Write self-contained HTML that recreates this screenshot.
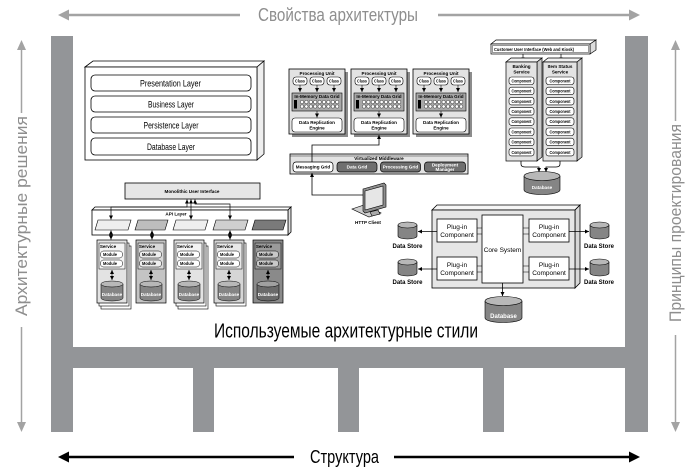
<!DOCTYPE html>
<html><head><meta charset="utf-8"><style>
html,body{margin:0;padding:0;background:#fff;}
svg{display:block;}
.s{font-family:"Liberation Sans Narrow","Liberation Sans",sans-serif;font-size:4.6px;font-weight:bold;text-anchor:middle;fill:#000;}
.m{font-family:"Liberation Sans Narrow","Liberation Sans",sans-serif;font-size:6.5px;text-anchor:middle;fill:#000;}
.big{font-family:"Liberation Sans Narrow","Liberation Sans","DejaVu Sans",sans-serif;}
</style></head><body>
<svg width="698" height="471" viewBox="0 0 698 471" xmlns="http://www.w3.org/2000/svg">
<defs>
<marker id="a" viewBox="0 0 6 6" refX="6" refY="3" markerWidth="4" markerHeight="4" orient="auto-start-reverse" markerUnits="userSpaceOnUse"><path d="M0,0 L6,3 L0,6z" fill="#000"/></marker>
</defs>
<rect width="698" height="471" fill="#fff"/>

<!-- frame -->
<g fill="#939598">
<rect x="51" y="36" width="22" height="396"/>
<rect x="625" y="36" width="23" height="396"/>
<rect x="51" y="347" width="597" height="21"/>
<rect x="193" y="347" width="21" height="85"/>
<rect x="338" y="347" width="21" height="85"/>
<rect x="483" y="347" width="21" height="85"/>
</g>

<!-- top label -->
<g stroke="#a3a3a3" stroke-width="2.5"><line x1="66" y1="15" x2="240" y2="15"/><line x1="438" y1="15" x2="632" y2="15"/></g>
<polygon points="58,15 69,9.5 69,20.5" fill="#a3a3a3"/><polygon points="640,15 629,9.5 629,20.5" fill="#a3a3a3"/>
<text class="big" x="258" y="21" font-size="18" fill="#8e8e8e" textLength="160" lengthAdjust="spacingAndGlyphs">Свойства архитектуры</text>

<!-- bottom label -->
<g stroke="#000" stroke-width="2.5"><line x1="66" y1="457" x2="294" y2="457"/><line x1="394" y1="457" x2="632" y2="457"/></g>
<polygon points="58,457 69,451.5 69,462.5" fill="#000"/><polygon points="640,457 629,451.5 629,462.5" fill="#000"/>
<text class="big" x="310" y="463" font-size="18" fill="#000" textLength="69" lengthAdjust="spacingAndGlyphs">Структура</text>

<!-- left vertical -->
<g stroke="#a3a3a3" stroke-width="1.5"><line x1="21.5" y1="48" x2="21.5" y2="113"/><line x1="21.5" y1="327" x2="21.5" y2="424"/></g>
<polygon points="21.5,40 17,50 26,50" fill="#a3a3a3"/><polygon points="21.5,432 17,422 26,422" fill="#a3a3a3"/>
<text class="big" transform="translate(27,316) rotate(-90)" font-size="17" fill="#8e8e8e" textLength="200" lengthAdjust="spacingAndGlyphs">Архитектурные решения</text>

<!-- right vertical -->
<g stroke="#a3a3a3" stroke-width="1.5"><line x1="675.5" y1="48" x2="675.5" y2="121"/><line x1="675.5" y1="335" x2="675.5" y2="424"/></g>
<polygon points="675.5,40 671,50 680,50" fill="#a3a3a3"/><polygon points="675.5,432 671,422 680,422" fill="#a3a3a3"/>
<text class="big" transform="translate(681,322) rotate(-90)" font-size="17" fill="#8e8e8e" textLength="198" lengthAdjust="spacingAndGlyphs">Принципы проектирования</text>

<!-- middle caption -->
<text class="big" x="214" y="337.5" font-size="20" fill="#000" textLength="264" lengthAdjust="spacingAndGlyphs">Используемые архитектурные стили</text>

<!-- ================= Layered ================= -->
<g stroke="#000" stroke-width="0.8">
<polygon points="85,67 93,61 264,61 257,67" fill="#fff"/>
<polygon points="257,67 264,61 264,154 257,160" fill="#eee"/>
<rect x="85" y="67" width="172" height="93" fill="#fff"/>
<rect x="91" y="75" width="160" height="16" rx="4" fill="#fff"/>
<rect x="91" y="96" width="160" height="16" rx="4" fill="#fff"/>
<rect x="91" y="117" width="160" height="16" rx="4" fill="#fff"/>
<rect x="91" y="138" width="160" height="17" rx="4" fill="#fff"/>
</g>
<g class="big" font-size="9" fill="#000">
<text x="140" y="86.5" textLength="61" lengthAdjust="spacingAndGlyphs">Presentation Layer</text>
<text x="148" y="107.5" textLength="46" lengthAdjust="spacingAndGlyphs">Business Layer</text>
<text x="143.5" y="128.5" textLength="55" lengthAdjust="spacingAndGlyphs">Persistence Layer</text>
<text x="147" y="150" textLength="48" lengthAdjust="spacingAndGlyphs">Database Layer</text>
</g>

<!-- ================= Space-based ================= -->
<g transform="translate(289,69)">
<rect x="3" y="3" width="56" height="65" fill="#8c8c8c"/>
<rect x="0" y="0" width="56" height="65" fill="#e3e3e3" stroke="#000" stroke-width="0.8"/>
<text class="s" x="28" y="6">Processing Unit</text>
<g fill="#fff" stroke="#000" stroke-width="0.6"><rect x="4" y="8" width="14" height="8" rx="3"/><rect x="21" y="8" width="14" height="8" rx="3"/><rect x="38" y="8" width="14" height="8" rx="3"/></g>
<text class="s" x="11" y="13.6" textLength="10" lengthAdjust="spacingAndGlyphs">Class</text><text class="s" x="28" y="13.6" textLength="10" lengthAdjust="spacingAndGlyphs">Class</text><text class="s" x="45" y="13.6" textLength="10" lengthAdjust="spacingAndGlyphs">Class</text>
<g stroke="#000" stroke-width="0.6" marker-end="url(#a)"><path d="M11 16V23"/><path d="M28 16V23"/><path d="M45 16V23"/><path d="M28 42V48.5"/></g>
<rect x="3" y="24" width="50" height="18" fill="#a8a8a8" stroke="#000" stroke-width="0.6"/>
<text class="s" x="28" y="29">In-Memory Data Grid</text>
<g fill="#fff" stroke="#000" stroke-width="0.4">
<circle cx="13" cy="33" r="1.7"/><circle cx="17.4" cy="33" r="1.7"/><circle cx="21.8" cy="33" r="1.7"/><circle cx="26.2" cy="33" r="1.7"/><circle cx="30.6" cy="33" r="1.7"/><circle cx="35" cy="33" r="1.7"/><circle cx="39.4" cy="33" r="1.7"/><circle cx="43.8" cy="33" r="1.7"/><circle cx="48.2" cy="33" r="1.7"/>
<circle cx="13" cy="37.5" r="1.7"/><circle cx="17.4" cy="37.5" r="1.7"/><circle cx="21.8" cy="37.5" r="1.7"/><circle cx="26.2" cy="37.5" r="1.7"/><circle cx="30.6" cy="37.5" r="1.7"/><circle cx="35" cy="37.5" r="1.7"/><circle cx="39.4" cy="37.5" r="1.7"/><circle cx="43.8" cy="37.5" r="1.7"/><circle cx="48.2" cy="37.5" r="1.7"/>
</g>
<rect x="5" y="31" width="3" height="8.5" fill="#000"/>
<rect x="3" y="49" width="50" height="14" rx="3" fill="#fff" stroke="#000" stroke-width="0.6"/>
<text class="s" x="28" y="55">Data Replication</text><text class="s" x="28" y="60.5">Engine</text>
</g>

<g transform="translate(351,69)">
<rect x="3" y="3" width="56" height="65" fill="#8c8c8c"/>
<rect x="0" y="0" width="56" height="65" fill="#e3e3e3" stroke="#000" stroke-width="0.8"/>
<text class="s" x="28" y="6">Processing Unit</text>
<g fill="#fff" stroke="#000" stroke-width="0.6"><rect x="4" y="8" width="14" height="8" rx="3"/><rect x="21" y="8" width="14" height="8" rx="3"/><rect x="38" y="8" width="14" height="8" rx="3"/></g>
<text class="s" x="11" y="13.6" textLength="10" lengthAdjust="spacingAndGlyphs">Class</text><text class="s" x="28" y="13.6" textLength="10" lengthAdjust="spacingAndGlyphs">Class</text><text class="s" x="45" y="13.6" textLength="10" lengthAdjust="spacingAndGlyphs">Class</text>
<g stroke="#000" stroke-width="0.6" marker-end="url(#a)"><path d="M11 16V23"/><path d="M28 16V23"/><path d="M45 16V23"/><path d="M28 42V48.5"/></g>
<rect x="3" y="24" width="50" height="18" fill="#a8a8a8" stroke="#000" stroke-width="0.6"/>
<text class="s" x="28" y="29">In-Memory Data Grid</text>
<g fill="#fff" stroke="#000" stroke-width="0.4">
<circle cx="13" cy="33" r="1.7"/><circle cx="17.4" cy="33" r="1.7"/><circle cx="21.8" cy="33" r="1.7"/><circle cx="26.2" cy="33" r="1.7"/><circle cx="30.6" cy="33" r="1.7"/><circle cx="35" cy="33" r="1.7"/><circle cx="39.4" cy="33" r="1.7"/><circle cx="43.8" cy="33" r="1.7"/><circle cx="48.2" cy="33" r="1.7"/>
<circle cx="13" cy="37.5" r="1.7"/><circle cx="17.4" cy="37.5" r="1.7"/><circle cx="21.8" cy="37.5" r="1.7"/><circle cx="26.2" cy="37.5" r="1.7"/><circle cx="30.6" cy="37.5" r="1.7"/><circle cx="35" cy="37.5" r="1.7"/><circle cx="39.4" cy="37.5" r="1.7"/><circle cx="43.8" cy="37.5" r="1.7"/><circle cx="48.2" cy="37.5" r="1.7"/>
</g>
<rect x="5" y="31" width="3" height="8.5" fill="#000"/>
<rect x="3" y="49" width="50" height="14" rx="3" fill="#fff" stroke="#000" stroke-width="0.6"/>
<text class="s" x="28" y="55">Data Replication</text><text class="s" x="28" y="60.5">Engine</text>
</g>

<g transform="translate(413,69)">
<rect x="3" y="3" width="56" height="65" fill="#8c8c8c"/>
<rect x="0" y="0" width="56" height="65" fill="#e3e3e3" stroke="#000" stroke-width="0.8"/>
<text class="s" x="28" y="6">Processing Unit</text>
<g fill="#fff" stroke="#000" stroke-width="0.6"><rect x="4" y="8" width="14" height="8" rx="3"/><rect x="21" y="8" width="14" height="8" rx="3"/><rect x="38" y="8" width="14" height="8" rx="3"/></g>
<text class="s" x="11" y="13.6" textLength="10" lengthAdjust="spacingAndGlyphs">Class</text><text class="s" x="28" y="13.6" textLength="10" lengthAdjust="spacingAndGlyphs">Class</text><text class="s" x="45" y="13.6" textLength="10" lengthAdjust="spacingAndGlyphs">Class</text>
<g stroke="#000" stroke-width="0.6" marker-end="url(#a)"><path d="M11 16V23"/><path d="M28 16V23"/><path d="M45 16V23"/><path d="M28 42V48.5"/></g>
<rect x="3" y="24" width="50" height="18" fill="#a8a8a8" stroke="#000" stroke-width="0.6"/>
<text class="s" x="28" y="29">In-Memory Data Grid</text>
<g fill="#fff" stroke="#000" stroke-width="0.4">
<circle cx="13" cy="33" r="1.7"/><circle cx="17.4" cy="33" r="1.7"/><circle cx="21.8" cy="33" r="1.7"/><circle cx="26.2" cy="33" r="1.7"/><circle cx="30.6" cy="33" r="1.7"/><circle cx="35" cy="33" r="1.7"/><circle cx="39.4" cy="33" r="1.7"/><circle cx="43.8" cy="33" r="1.7"/><circle cx="48.2" cy="33" r="1.7"/>
<circle cx="13" cy="37.5" r="1.7"/><circle cx="17.4" cy="37.5" r="1.7"/><circle cx="21.8" cy="37.5" r="1.7"/><circle cx="26.2" cy="37.5" r="1.7"/><circle cx="30.6" cy="37.5" r="1.7"/><circle cx="35" cy="37.5" r="1.7"/><circle cx="39.4" cy="37.5" r="1.7"/><circle cx="43.8" cy="37.5" r="1.7"/><circle cx="48.2" cy="37.5" r="1.7"/>
</g>
<rect x="5" y="31" width="3" height="8.5" fill="#000"/>
<rect x="3" y="49" width="50" height="14" rx="3" fill="#fff" stroke="#000" stroke-width="0.6"/>
<text class="s" x="28" y="55">Data Replication</text><text class="s" x="28" y="60.5">Engine</text>
</g>

<!-- Virtualized middleware -->
<rect x="290" y="154" width="178" height="20" fill="#e3e3e3" stroke="#000" stroke-width="0.8"/>
<line x1="290" y1="156" x2="468" y2="156" stroke="#000" stroke-width="0.4"/>
<text class="s" x="379" y="160">Virtualized Middleware</text>
<rect x="293" y="162" width="40" height="10" rx="3" fill="#fff" stroke="#000" stroke-width="0.7"/>
<rect x="337" y="162" width="40" height="10" rx="3" fill="#6f6f6f" stroke="#000" stroke-width="0.7"/>
<rect x="380.5" y="162" width="40" height="10" rx="3" fill="#6f6f6f" stroke="#000" stroke-width="0.7"/>
<rect x="424.5" y="162" width="41" height="10" rx="3" fill="#6f6f6f" stroke="#000" stroke-width="0.7"/>
<text class="s" x="313" y="168.6">Messaging Grid</text>
<text class="s" x="357" y="168.6" style="fill:#fff">Data Grid</text>
<text class="s" x="400.5" y="168.6" style="fill:#fff">Processing Grid</text>
<text class="s" x="445" y="166.3" style="fill:#fff">Deployment</text>
<text class="s" x="445" y="170.8" style="fill:#fff">Manager</text>
<path d="M312 162V145H379V135" fill="none" stroke="#000" stroke-width="0.8" marker-end="url(#a)"/>
<path d="M366 195H312V173" fill="none" stroke="#000" stroke-width="0.8" marker-end="url(#a)"/>

<!-- HTTP client -->
<g stroke="#000" stroke-width="0.6">
<polygon points="352,209 364,205 381,213 369,217" fill="#cfcfcf"/>
<polygon points="363,189 384,183 386,185 386,207 365,213 363,211" fill="#8e8e8e"/>
<polygon points="365,191 383,186 383,205 365,210" fill="#e6e6e6"/>
<polygon points="370,212 378,210 380,214 372,216" fill="#aaa"/>
</g>
<text class="s" x="368" y="224">HTTP Client</text>

<!-- ================= Microservices (top right) ================= -->
<g stroke="#000" stroke-width="0.7">
<polygon points="491,44 496,40 596,40 590,44" fill="#fff"/>
<polygon points="590,44 596,40 596,50 590,54" fill="#ddd"/>
<rect x="491" y="44" width="99" height="10" fill="#fff"/>
<rect x="492.5" y="45.5" width="96" height="7" fill="none" stroke-width="0.4"/>
</g>
<text class="s" x="494" y="51" style="text-anchor:start" textLength="80" lengthAdjust="spacingAndGlyphs">Customer User Interface (Web and Kiosk)</text>
<g stroke="#000" stroke-width="0.7" marker-end="url(#a)"><path d="M523 54V61.5"/><path d="M561 54V61.5"/></g>

<g stroke="#000" stroke-width="0.7">
<polygon points="506,62 511,58 542,58 537,62" fill="#f2f2f2"/>
<polygon points="537,62 542,58 542,157 537,161" fill="#c8c8c8"/>
<rect x="506" y="62" width="31" height="99" fill="#e3e3e3"/>
<polygon points="543,62 548,58 582,58 577,62" fill="#f2f2f2"/>
<polygon points="577,62 582,58 582,157 577,161" fill="#c8c8c8"/>
<rect x="543" y="62" width="34" height="99" fill="#e3e3e3"/>
</g>
<text class="s" x="521.5" y="68">Banking</text><text class="s" x="521.5" y="73.5">Service</text>
<text class="s" x="560" y="68">Item Status</text><text class="s" x="560" y="73.5">Service</text>
<g fill="#fff" stroke="#000" stroke-width="0.6">
<rect x="509" y="77" width="25" height="7.5" rx="2.5"/><rect x="509" y="87.2" width="25" height="7.5" rx="2.5"/><rect x="509" y="97.4" width="25" height="7.5" rx="2.5"/><rect x="509" y="107.6" width="25" height="7.5" rx="2.5"/><rect x="509" y="117.8" width="25" height="7.5" rx="2.5"/><rect x="509" y="128" width="25" height="7.5" rx="2.5"/><rect x="509" y="138.2" width="25" height="7.5" rx="2.5"/><rect x="509" y="148.4" width="25" height="7.5" rx="2.5"/>
<rect x="546" y="77" width="28" height="7.5" rx="2.5"/><rect x="546" y="87.2" width="28" height="7.5" rx="2.5"/><rect x="546" y="97.4" width="28" height="7.5" rx="2.5"/><rect x="546" y="107.6" width="28" height="7.5" rx="2.5"/><rect x="546" y="117.8" width="28" height="7.5" rx="2.5"/><rect x="546" y="128" width="28" height="7.5" rx="2.5"/><rect x="546" y="138.2" width="28" height="7.5" rx="2.5"/><rect x="546" y="148.4" width="28" height="7.5" rx="2.5"/>
</g>
<g class="s" style="font-size:4.3px">
<text x="521.5" y="82.4" textLength="20" lengthAdjust="spacingAndGlyphs">Component</text><text x="521.5" y="92.6" textLength="20" lengthAdjust="spacingAndGlyphs">Component</text><text x="521.5" y="102.8" textLength="20" lengthAdjust="spacingAndGlyphs">Component</text><text x="521.5" y="113" textLength="20" lengthAdjust="spacingAndGlyphs">Component</text><text x="521.5" y="123.2" textLength="20" lengthAdjust="spacingAndGlyphs">Component</text><text x="521.5" y="133.4" textLength="20" lengthAdjust="spacingAndGlyphs">Component</text><text x="521.5" y="143.6" textLength="20" lengthAdjust="spacingAndGlyphs">Component</text><text x="521.5" y="153.8" textLength="20" lengthAdjust="spacingAndGlyphs">Component</text>
<text x="560" y="82.4" textLength="21" lengthAdjust="spacingAndGlyphs">Component</text><text x="560" y="92.6" textLength="21" lengthAdjust="spacingAndGlyphs">Component</text><text x="560" y="102.8" textLength="21" lengthAdjust="spacingAndGlyphs">Component</text><text x="560" y="113" textLength="21" lengthAdjust="spacingAndGlyphs">Component</text><text x="560" y="123.2" textLength="21" lengthAdjust="spacingAndGlyphs">Component</text><text x="560" y="133.4" textLength="21" lengthAdjust="spacingAndGlyphs">Component</text><text x="560" y="143.6" textLength="21" lengthAdjust="spacingAndGlyphs">Component</text><text x="560" y="153.8" textLength="21" lengthAdjust="spacingAndGlyphs">Component</text>
</g>
<g fill="none" stroke="#000" stroke-width="0.8" marker-end="url(#a)">
<path d="M521 161V164Q521 167 525 167H539V172"/>
<path d="M560 161V164Q560 167 556 167H546V172"/>
</g>
<path d="M524,176 v14 a18,4.5 0 0 0 36,0 v-14" fill="#858585" stroke="#000" stroke-width="0.6"/>
<ellipse cx="542" cy="176" rx="18" ry="4.5" fill="#b8b8b8" stroke="#000" stroke-width="0.6"/>
<text class="s" x="542" y="189" style="fill:#fff">Database</text>

<!-- ================= Microservices with API layer ================= -->
<rect x="125" y="183" width="135" height="16" fill="#e6e6e6" stroke="#000" stroke-width="0.8"/>
<text class="s" x="192" y="193">Monolithic User Interface</text>
<g stroke="#000" stroke-width="0.8">
<polygon points="92,210 95,207 291,207 288,210" fill="#fff"/>
<polygon points="288,210 291,207 291,232 288,235" fill="#ddd"/>
<rect x="92" y="210" width="196" height="25" fill="#fff"/>
</g>
<text class="s" x="176" y="215.5">API Layer</text>
<g stroke="#000" stroke-width="0.6">
<polygon points="98,220 131,220 128,230 95,230" fill="#eee"/>
<polygon points="138,220 168,220 165,230 135,230" fill="#bdbdbd"/>
<polygon points="176,220 208,220 205,230 173,230" fill="#eee"/>
<polygon points="216,220 248,220 245,230 213,230" fill="#cfcfcf"/>
<polygon points="255,220 286,220 283,230 252,230" fill="#7a7a7a"/>
</g>
<g fill="none" stroke="#000" stroke-width="0.7" marker-start="url(#a)" marker-end="url(#a)">
<path d="M187 199.5V207H111V219.5"/>
<path d="M191 199.5V219.5"/>
<path d="M195 199.5V204H230V219.5"/>
<path d="M111 230.5V239.5"/>
<path d="M152 230.5V239.5"/>
<path d="M230 230.5V239.5"/>
</g>

<!-- services -->
<g transform="translate(97,240)">
<rect x="4" y="6" width="30" height="63" fill="#fff" stroke="#000" stroke-width="0.6"/>
<rect x="2" y="3" width="30" height="63" fill="#fff" stroke="#000" stroke-width="0.6"/>
<rect x="0" y="0" width="30" height="63" fill="#e3e3e3" stroke="#000" stroke-width="0.7"/>
<rect x="2" y="3" width="26" height="26" fill="#f4f4f4" stroke="#000" stroke-width="0.5"/>
<text class="s" x="11" y="8">Service</text>
<rect x="3.5" y="11" width="22" height="7" rx="3" fill="#fff" stroke="#000" stroke-width="0.5"/>
<rect x="3.5" y="20" width="22" height="7" rx="3" fill="#fff" stroke="#000" stroke-width="0.5"/>
<text class="s" x="13" y="16" textLength="14" lengthAdjust="spacingAndGlyphs">Module</text><text class="s" x="13" y="25" textLength="14" lengthAdjust="spacingAndGlyphs">Module</text>
<path d="M15 30V40" stroke="#000" stroke-width="0.6" marker-start="url(#a)" marker-end="url(#a)"/>
<path d="M4,44 v14 a11,3 0 0 0 22,0 v-14" fill="#858585" stroke="#000" stroke-width="0.5"/>
<ellipse cx="15" cy="44" rx="11" ry="3" fill="#b8b8b8" stroke="#000" stroke-width="0.5"/>
<text class="s" x="15" y="56" style="fill:#fff">Database</text>
</g>
<g transform="translate(136,240)">
<rect x="0" y="0" width="30" height="63" fill="#c4c4c4" stroke="#000" stroke-width="0.7"/>
<rect x="2" y="3" width="26" height="26" fill="#d8d8d8" stroke="#000" stroke-width="0.5"/>
<text class="s" x="11" y="8">Service</text>
<rect x="3.5" y="11" width="22" height="7" rx="3" fill="#eee" stroke="#000" stroke-width="0.5"/>
<rect x="3.5" y="20" width="22" height="7" rx="3" fill="#eee" stroke="#000" stroke-width="0.5"/>
<text class="s" x="13" y="16" textLength="14" lengthAdjust="spacingAndGlyphs">Module</text><text class="s" x="13" y="25" textLength="14" lengthAdjust="spacingAndGlyphs">Module</text>
<path d="M15 30V40" stroke="#000" stroke-width="0.6" marker-start="url(#a)" marker-end="url(#a)"/>
<path d="M4,44 v14 a11,3 0 0 0 22,0 v-14" fill="#858585" stroke="#000" stroke-width="0.5"/>
<ellipse cx="15" cy="44" rx="11" ry="3" fill="#b8b8b8" stroke="#000" stroke-width="0.5"/>
<text class="s" x="15" y="56" style="fill:#fff">Database</text>
</g>
<g transform="translate(174,240)">
<rect x="4" y="6" width="30" height="63" fill="#fff" stroke="#000" stroke-width="0.6"/>
<rect x="2" y="3" width="30" height="63" fill="#fff" stroke="#000" stroke-width="0.6"/>
<rect x="0" y="0" width="30" height="63" fill="#e3e3e3" stroke="#000" stroke-width="0.7"/>
<rect x="2" y="3" width="26" height="26" fill="#f4f4f4" stroke="#000" stroke-width="0.5"/>
<text class="s" x="11" y="8">Service</text>
<rect x="3.5" y="11" width="22" height="7" rx="3" fill="#fff" stroke="#000" stroke-width="0.5"/>
<rect x="3.5" y="20" width="22" height="7" rx="3" fill="#fff" stroke="#000" stroke-width="0.5"/>
<text class="s" x="13" y="16" textLength="14" lengthAdjust="spacingAndGlyphs">Module</text><text class="s" x="13" y="25" textLength="14" lengthAdjust="spacingAndGlyphs">Module</text>
<path d="M15 30V40" stroke="#000" stroke-width="0.6" marker-start="url(#a)" marker-end="url(#a)"/>
<path d="M4,44 v14 a11,3 0 0 0 22,0 v-14" fill="#858585" stroke="#000" stroke-width="0.5"/>
<ellipse cx="15" cy="44" rx="11" ry="3" fill="#b8b8b8" stroke="#000" stroke-width="0.5"/>
<text class="s" x="15" y="56" style="fill:#fff">Database</text>
</g>
<g transform="translate(214,240)">
<rect x="2" y="3" width="30" height="63" fill="#fff" stroke="#000" stroke-width="0.6"/>
<rect x="0" y="0" width="30" height="63" fill="#d6d6d6" stroke="#000" stroke-width="0.7"/>
<rect x="2" y="3" width="26" height="26" fill="#e8e8e8" stroke="#000" stroke-width="0.5"/>
<text class="s" x="11" y="8">Service</text>
<rect x="3.5" y="11" width="22" height="7" rx="3" fill="#fff" stroke="#000" stroke-width="0.5"/>
<rect x="3.5" y="20" width="22" height="7" rx="3" fill="#fff" stroke="#000" stroke-width="0.5"/>
<text class="s" x="13" y="16" textLength="14" lengthAdjust="spacingAndGlyphs">Module</text><text class="s" x="13" y="25" textLength="14" lengthAdjust="spacingAndGlyphs">Module</text>
<path d="M15 30V40" stroke="#000" stroke-width="0.6" marker-start="url(#a)" marker-end="url(#a)"/>
<path d="M4,44 v14 a11,3 0 0 0 22,0 v-14" fill="#858585" stroke="#000" stroke-width="0.5"/>
<ellipse cx="15" cy="44" rx="11" ry="3" fill="#b8b8b8" stroke="#000" stroke-width="0.5"/>
<text class="s" x="15" y="56" style="fill:#fff">Database</text>
</g>
<g transform="translate(253,240)">
<rect x="0" y="0" width="30" height="63" fill="#8a8a8a" stroke="#000" stroke-width="0.7"/>
<rect x="2" y="3" width="26" height="26" fill="#9a9a9a" stroke="#000" stroke-width="0.5"/>
<text class="s" x="11" y="8">Service</text>
<rect x="3.5" y="11" width="22" height="7" rx="3" fill="#c8c8c8" stroke="#000" stroke-width="0.5"/>
<rect x="3.5" y="20" width="22" height="7" rx="3" fill="#c8c8c8" stroke="#000" stroke-width="0.5"/>
<text class="s" x="13" y="16" textLength="14" lengthAdjust="spacingAndGlyphs">Module</text><text class="s" x="13" y="25" textLength="14" lengthAdjust="spacingAndGlyphs">Module</text>
<path d="M15 30V40" stroke="#000" stroke-width="0.6" marker-start="url(#a)" marker-end="url(#a)"/>
<path d="M4,44 v14 a11,3 0 0 0 22,0 v-14" fill="#6a6a6a" stroke="#000" stroke-width="0.5"/>
<ellipse cx="15" cy="44" rx="11" ry="3" fill="#a0a0a0" stroke="#000" stroke-width="0.5"/>
<text class="s" x="15" y="56" style="fill:#fff">Database</text>
</g>

<!-- ================= Microkernel ================= -->
<g stroke="#000" stroke-width="0.8">
<polygon points="432,210 437,205 580,205 575,210" fill="#f6f6f6"/>
<polygon points="575,210 580,205 580,283 575,288" fill="#d6d6d6"/>
<rect x="432" y="210" width="143" height="78" fill="#e6e6e6"/>
<rect x="482" y="215" width="41" height="68" fill="#fff"/>
<rect x="437" y="219" width="40" height="23" fill="#fff"/>
<rect x="437" y="257" width="40" height="23" fill="#fff"/>
<rect x="529" y="219" width="40" height="23" fill="#fff"/>
<rect x="529" y="257" width="40" height="23" fill="#fff"/>
</g>
<g stroke="#000" stroke-width="0.6">
<path d="M477 228H482M477 234H482M477 266H482M477 272H482M523 228H529M523 234H529M523 266H529M523 272H529"/>
</g>
<text class="m" x="502.5" y="252">Core System</text>
<text class="m" x="457" y="229">Plug-in</text><text class="m" x="457" y="237">Component</text>
<text class="m" x="457" y="267">Plug-in</text><text class="m" x="457" y="275">Component</text>
<text class="m" x="549" y="229">Plug-in</text><text class="m" x="549" y="237">Component</text>
<text class="m" x="549" y="267">Plug-in</text><text class="m" x="549" y="275">Component</text>
<g stroke="#000" stroke-width="0.8" fill="none" marker-end="url(#a)">
<path d="M437 231.5H418"/><path d="M437 269H418"/>
<path d="M569 231.5H589"/><path d="M569 269H589"/>
<path d="M502.5 283V296"/>
</g>
<g stroke="#000" stroke-width="0.6">
<path d="M398,225 v11 a9.5,3 0 0 0 19,0 v-11" fill="#858585"/><ellipse cx="407.5" cy="225" rx="9.5" ry="3" fill="#b8b8b8"/>
<path d="M398,262 v11 a9.5,3 0 0 0 19,0 v-11" fill="#858585"/><ellipse cx="407.5" cy="262" rx="9.5" ry="3" fill="#b8b8b8"/>
<path d="M590,225 v11 a9.5,3 0 0 0 19,0 v-11" fill="#858585"/><ellipse cx="599.5" cy="225" rx="9.5" ry="3" fill="#b8b8b8"/>
<path d="M590,262 v11 a9.5,3 0 0 0 19,0 v-11" fill="#858585"/><ellipse cx="599.5" cy="262" rx="9.5" ry="3" fill="#b8b8b8"/>
<path d="M485,301 v17 a18.5,4.5 0 0 0 37,0 v-17" fill="#858585"/><ellipse cx="503.5" cy="301" rx="18.5" ry="4.5" fill="#b8b8b8"/>
</g>
<g class="s" style="font-size:6px">
<text x="407.5" y="248">Data Store</text><text x="407.5" y="284">Data Store</text>
<text x="599" y="248">Data Store</text><text x="599" y="284">Data Store</text>
<text x="503.5" y="318" style="fill:#fff">Database</text>
</g>
</svg>
</body></html>
